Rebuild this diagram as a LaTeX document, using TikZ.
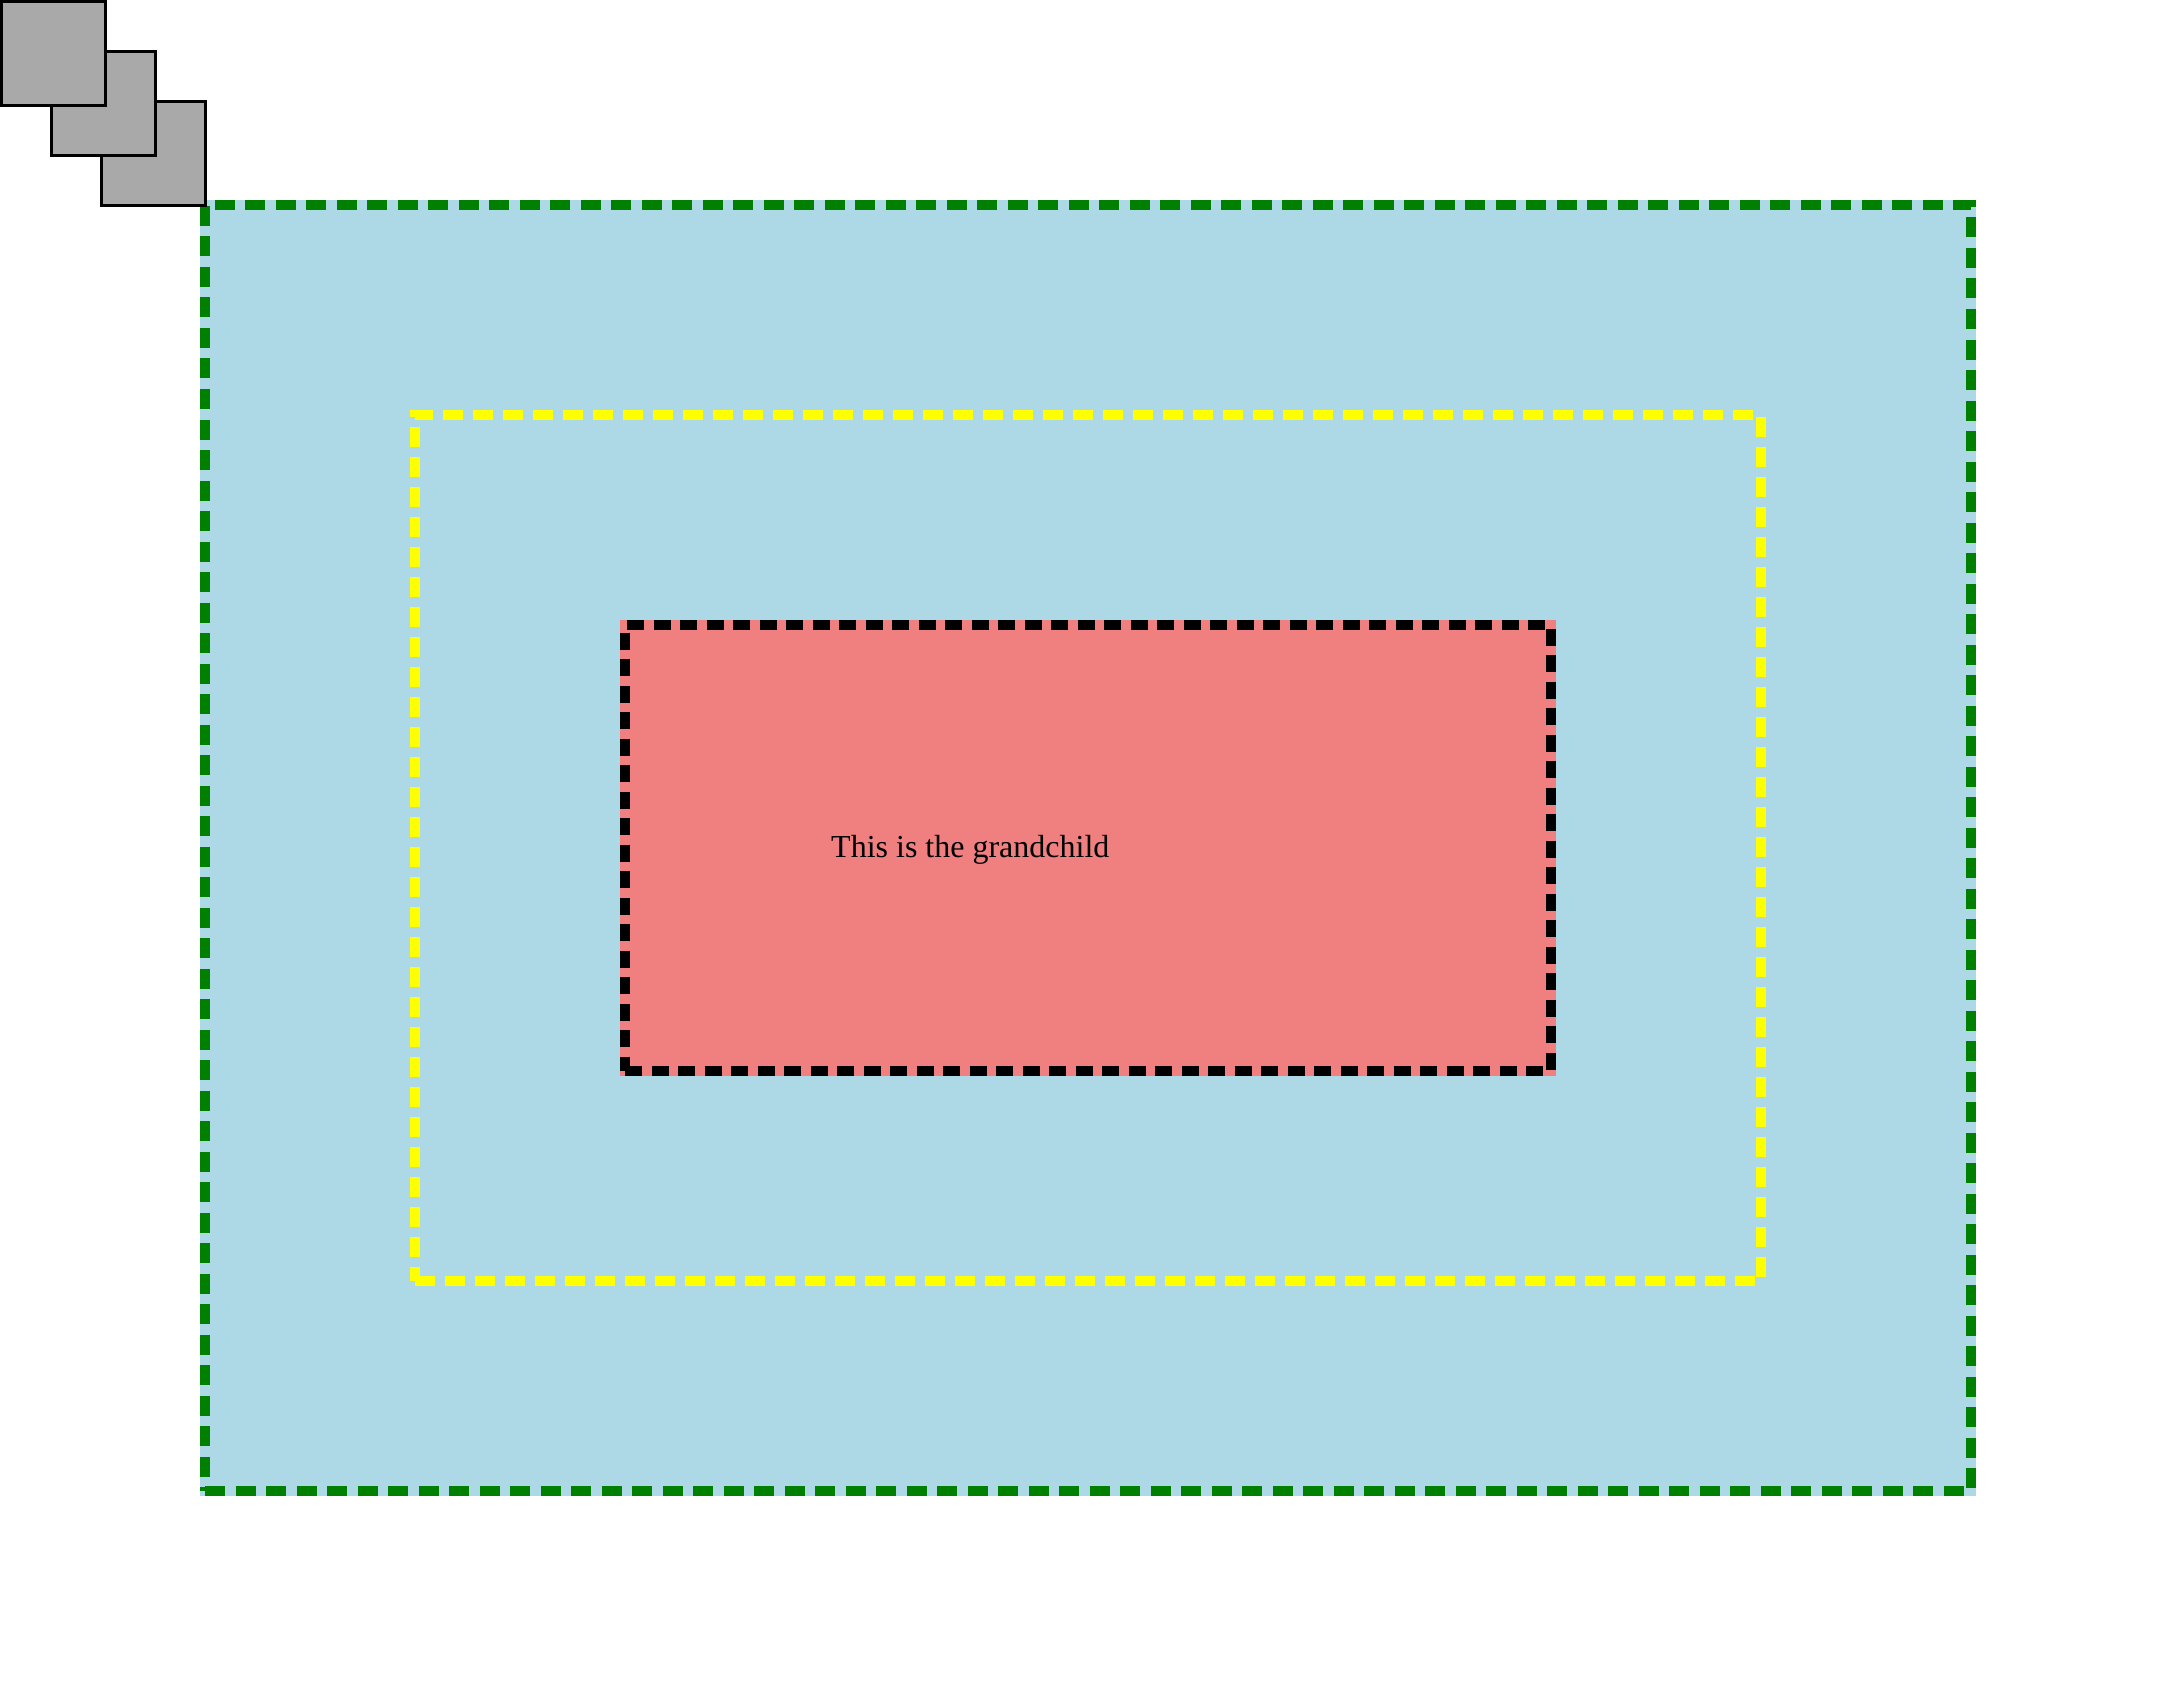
\documentclass[tikz,border=0pt]{standalone}
\usepackage{fontspec}
\setmainfont{Liberation Serif}
\definecolor{lblue}{HTML}{ADD8E6}
\definecolor{lcoral}{HTML}{F08080}
\definecolor{dgray}{HTML}{A9A9A9}
\definecolor{cssgreen}{HTML}{008000}
\definecolor{cssyellow}{HTML}{FFFF00}
\begin{document}
\begin{tikzpicture}[x=1pt,y=-1pt,
  box/.style={rectangle, inner sep=0pt, outer sep=0pt, line width=10pt},
  sq/.style={rectangle, draw=black, fill=dgray, line width=3.3pt, inner sep=0pt, outer sep=0pt, minimum width=103.7pt, minimum height=103.7pt},
  lbl/.style={font=\fontsize{32}{38}\selectfont, inner sep=0pt, anchor=base west}]
\useasboundingbox (0,0) rectangle (2174,1696);
% green container
\fill[lblue] (200,200) rectangle (1976,1496);
\node[box, draw=cssgreen, dash pattern=on 20pt off 10.5pt, minimum width=1766pt, minimum height=1286pt] (outer) at (1088,848) {};
% yellow child
\node[box, draw=cssyellow, dash pattern=on 20pt off 10pt, minimum width=1346pt, minimum height=866pt] (child) at (1088,848) {};
% red grandchild
\fill[lcoral] (620,620) rectangle (1556,1076);
\node[box, draw=black, dash pattern=on 17pt off 9.5pt, minimum width=926pt, minimum height=446pt] (grand) at (1088,848) {};
\node[lbl] (txt) at (831,857) {This is the grandchild};
% squares
\node[sq] (s3) at (153.5,153.5) {};
\node[sq] (s2) at (103.5,103.5) {};
\node[sq] (s1) at (53.5,53.5) {};
\end{tikzpicture}
\end{document}
